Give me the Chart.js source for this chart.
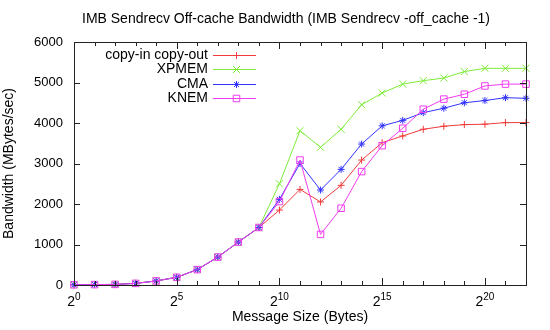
<!DOCTYPE html>
<html>
<head>
<meta charset="utf-8">
<script src="https://cdn.jsdelivr.net/npm/chart.js"></script>
<style>
  body { margin: 0; background: #fff; }
  #wrap { width: 550px; height: 330px; }
</style>
</head>
<body>
<div id="wrap"><canvas id="chart" width="550" height="330"></canvas></div>
<script>
// message sizes as powers of two (2^0 .. 2^22)
const exponents = [0,1,2,3,4,5,6,7,8,9,10,11,12,13,14,15,16,17,18,19,20,21,22];
const xTickExps = [0, 5, 10, 15, 20];
const yTicks = [0, 1000, 2000, 3000, 4000, 5000, 6000];

// bandwidth in MBytes/sec
const copyInOut = [5,10,15,40,100,190,380,690,1060,1420,1850,2360,2050,2460,3085,3515,3680,3845,3920,3960,3970,4010,4010];
const xpmem     = [5,10,15,40,100,190,380,690,1060,1420,2500,3810,3400,3845,4450,4740,4960,5045,5110,5270,5350,5350,5350];
const cma       = [5,10,15,40,100,190,380,690,1060,1420,2115,3000,2345,2855,3480,3930,4065,4255,4365,4500,4555,4625,4610];
const knem      = [5,10,15,40,100,190,380,690,1060,1420,2060,3085,1250,1895,2800,3440,3870,4340,4590,4710,4915,4960,4960];

const FONT = '"Liberation Sans", Arial, Helvetica, sans-serif';

const toPoints = (vals) => vals.map((v, i) => ({ x: exponents[i], y: v }));

const series = [
    { label: 'copy-in copy-out', data: copyInOut, color: 'rgb(240,60,60)',  style: 'cross',    radius: 3.5, order: 4 },
    { label: 'XPMEM',            data: xpmem,     color: 'rgb(125,235,55)', style: 'crossRot', radius: 5,   order: 3 },
    { label: 'CMA',              data: cma,       color: 'rgb(50,50,255)',  style: 'star',     radius: 3.5, order: 2 },
    { label: 'KNEM',             data: knem,      color: 'rgb(240,60,240)', style: 'rect',     radius: 4.6, order: 1 }
];

// frame, inward ticks, superscript tick labels, title and legend (gnuplot look)
const gnuplotDecor = {
    id: 'gnuplotDecor',
    afterDraw(chart) {
        const ctx = chart.ctx;
        const a = chart.chartArea;
        const xs = chart.scales.x, ys = chart.scales.y;
        ctx.save();

        // border box
        ctx.strokeStyle = '#222';
        ctx.lineWidth = 1;
        ctx.strokeRect(Math.round(a.left) + 0.5, Math.round(a.top) + 0.5,
            Math.round(a.right - a.left), Math.round(a.bottom - a.top));

        // x ticks (every power, longer at labelled ones), bottom and top
        ctx.beginPath();
        exponents.forEach(p => {
            const x = Math.round(xs.getPixelForValue(p)) + 0.5;
            const len = xTickExps.includes(p) ? 7 : 4;
            ctx.moveTo(x, a.bottom); ctx.lineTo(x, a.bottom - len);
            ctx.moveTo(x, a.top); ctx.lineTo(x, a.top + len);
        });
        // y ticks left and right
        yTicks.forEach(v => {
            const y = Math.round(ys.getPixelForValue(v)) + 0.5;
            ctx.moveTo(a.left, y); ctx.lineTo(a.left + 6, y);
            ctx.moveTo(a.right, y); ctx.lineTo(a.right - 6, y);
        });
        ctx.stroke();

        // x tick labels 2^n
        ctx.fillStyle = '#000';
        ctx.textBaseline = 'alphabetic';
        ctx.textAlign = 'left';
        xTickExps.forEach(p => {
            const x = xs.getPixelForValue(p);
            ctx.font = '14px ' + FONT;
            const wBase = ctx.measureText('2').width;
            ctx.font = '10px ' + FONT;
            const wExp = ctx.measureText(String(p)).width;
            const x0 = x - (wBase + wExp) / 2;
            ctx.font = '14px ' + FONT;
            ctx.fillText('2', x0, 305.5);
            ctx.font = '10px ' + FONT;
            ctx.fillText(String(p), x0 + wBase, 300);
        });

        // title
        ctx.font = '14px ' + FONT;
        ctx.textAlign = 'center';
        ctx.textBaseline = 'middle';
        ctx.fillText('IMB Sendrecv Off-cache Bandwidth (IMB Sendrecv -off_cache -1)', 286, 19);

        // legend inside plot, text right aligned before the sample
        ctx.textAlign = 'right';
        series.forEach((s, i) => {
            const y = 55 + i * 14.4;
            ctx.fillStyle = '#000';
            ctx.fillText(s.label, 208, y);
            ctx.strokeStyle = s.color;
            ctx.lineWidth = 1;
            ctx.beginPath();
            ctx.moveTo(213, Math.round(y) + 0.5);
            ctx.lineTo(256, Math.round(y) + 0.5);
            ctx.stroke();
            ctx.fillStyle = 'rgba(0,0,0,0)';
            Chart.helpers.drawPoint(ctx, { pointStyle: s.style, radius: s.radius, rotation: 0, borderWidth: 1 }, 236.5, Math.round(y) + 0.5);
        });
        ctx.restore();
    }
};

new Chart(document.getElementById('chart'), {
    type: 'line',
    data: {
        datasets: series.map(s => ({
            label: s.label,
            data: toPoints(s.data),
            borderColor: s.color,
            backgroundColor: 'rgba(0,0,0,0)',
            borderWidth: 1,
            pointStyle: s.style,
            pointRadius: s.radius,
            pointBorderWidth: 1,
            pointBorderColor: s.color,
            pointBackgroundColor: 'rgba(0,0,0,0)',
            tension: 0,
            fill: false,
            clip: false,
            order: s.order
        }))
    },
    options: {
        responsive: false,
        animation: false,
        layout: { padding: { top: 42, right: 24, left: 0, bottom: 0 } },
        plugins: {
            legend: { display: false },
            title: { display: false },
            tooltip: { enabled: false }
        },
        scales: {
            x: {
                type: 'linear',
                min: 0,
                max: 22,
                grid: { display: false, drawTicks: false },
                border: { display: false },
                ticks: { display: false },
                title: {
                    display: true,
                    text: 'Message Size (Bytes)',
                    color: '#000',
                    font: { family: FONT, size: 14 },
                    padding: { top: 0, bottom: 4 }
                },
                afterFit: s => { s.height = 45; }
            },
            y: {
                min: 0,
                max: 6000,
                grid: { display: false, drawTicks: false },
                border: { display: false },
                ticks: {
                    stepSize: 1000,
                    padding: 11,
                    color: '#000',
                    font: { family: FONT, size: 13 },
                    callback: v => String(v)
                },
                title: {
                    display: true,
                    text: 'Bandwidth (MBytes/sec)',
                    color: '#000',
                    font: { family: FONT, size: 14 },
                    padding: { top: 1, bottom: 0 }
                },
                afterFit: s => { s.width = 74; }
            }
        }
    },
    plugins: [gnuplotDecor]
});
</script>
</body>
</html>
